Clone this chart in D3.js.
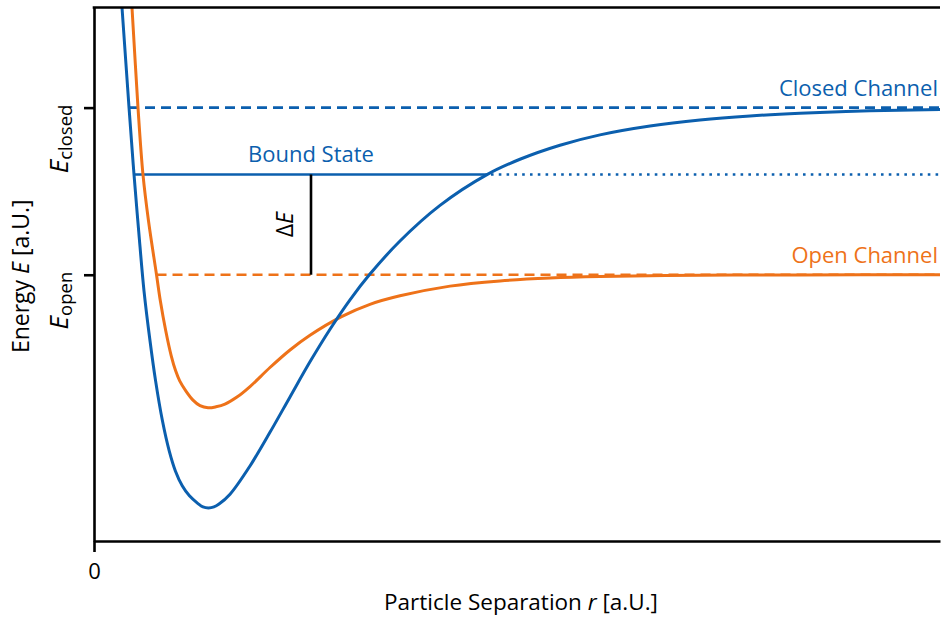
<!DOCTYPE html>
<html>
<head>
<meta charset="utf-8">
<script src="https://cdn.jsdelivr.net/npm/d3@7"></script>
<style>
  html, body { margin: 0; padding: 0; background: #fff; }
  svg { display: block; font-family: "Open Sans", "Noto Sans", sans-serif; }
</style>
</head>
<body>
<svg id="chart" width="941" height="621"></svg>
<script>
// Closed-channel potential (r, E) samples
const closedR = [0.307, 0.331, 0.414, 0.473, 0.530, 0.591, 0.662, 0.728, 0.809, 0.889, 0.962, 1.043, 1.128, 1.229, 1.288, 1.353, 1.418, 1.478, 1.608, 1.844, 2.080, 2.317, 2.553, 2.790, 3.026, 3.262, 3.617, 4.090, 4.645, 5.035, 5.508, 5.981, 6.572, 7.163, 7.754, 8.345, 9.173, 10.0];
const closedE = [1.760, 1.599, 1.000, 0.599, 0.251, -0.096, -0.395, -0.635, -0.874, -1.054, -1.174, -1.263, -1.323, -1.369, -1.389, -1.395, -1.389, -1.372, -1.313, -1.144, -0.943, -0.731, -0.521, -0.326, -0.150, 0.004, 0.202, 0.415, 0.599, 0.691, 0.775, 0.837, 0.890, 0.926, 0.950, 0.966, 0.981, 0.989];

// Open-channel potential (r, E) samples
const openR = [0.426, 0.449, 0.520, 0.579, 0.644, 0.739, 0.784, 0.848, 0.913, 0.965, 1.013, 1.087, 1.170, 1.253, 1.348, 1.442, 1.548, 1.690, 1.844, 2.080, 2.317, 2.553, 2.920, 3.262, 3.617, 4.208, 4.799, 5.390, 5.981, 7.163, 8.345, 10.0];
const openE = [1.760, 1.599, 1.000, 0.599, 0.323, 0.000, -0.156, -0.335, -0.485, -0.575, -0.635, -0.696, -0.750, -0.783, -0.796, -0.790, -0.774, -0.732, -0.669, -0.555, -0.450, -0.362, -0.252, -0.177, -0.126, -0.068, -0.037, -0.020, -0.011, -0.003, -0.001, 0.000];

// Threshold energies and the bound state level
const levelNames = ["closed", "open"];
const levelE = [1.0, 0.0];
const boundE = 0.6;
// Radial extents of the horizontal guides
const closedLineStart = 0.414;
const openLineStart = 0.739;
const boundStart = 0.473;
const boundEnd = 4.645;
const deltaR = 2.565;

const rDomain = [0, 10];
const eDomain = [-1.593, 1.599];
const xTicks = [0];

const blue = "#0b5fae";
const orange = "#ee7219";

const svg = d3.select("#chart");
const m = { left: 94, right: 940, top: 7.5, bottom: 541 };

const x = d3.scaleLinear().domain(rDomain).range([m.left, m.right]);
const y = d3.scaleLinear().domain(eDomain).range([m.bottom, m.top]);

svg.append("defs").append("clipPath").attr("id", "plot")
  .append("rect").attr("x", m.left).attr("y", m.top)
  .attr("width", m.right - m.left).attr("height", m.bottom - m.top);

const g = svg.append("g").attr("clip-path", "url(#plot)");

// horizontal guides
g.append("line")
  .attr("x1", x(closedLineStart)).attr("x2", x(rDomain[1]))
  .attr("y1", y(levelE[0])).attr("y2", y(levelE[0]))
  .attr("stroke", blue).attr("stroke-width", 2.6).attr("stroke-dasharray", "10,6");
g.append("line")
  .attr("x1", x(openLineStart)).attr("x2", x(rDomain[1]))
  .attr("y1", y(levelE[1])).attr("y2", y(levelE[1]))
  .attr("stroke", orange).attr("stroke-width", 2.6).attr("stroke-dasharray", "10,6");
g.append("line")
  .attr("x1", x(boundStart)).attr("x2", x(boundEnd))
  .attr("y1", y(boundE)).attr("y2", y(boundE))
  .attr("stroke", blue).attr("stroke-width", 2.6);
g.append("line")
  .attr("x1", x(boundEnd) + 4).attr("x2", x(rDomain[1]))
  .attr("y1", y(boundE)).attr("y2", y(boundE))
  .attr("stroke", blue).attr("stroke-width", 2.6).attr("stroke-dasharray", "2.6,5.2");

// energy gap marker
g.append("line")
  .attr("x1", x(deltaR)).attr("x2", x(deltaR))
  .attr("y1", y(levelE[1])).attr("y2", y(boundE))
  .attr("stroke", "#000").attr("stroke-width", 2.6);

// potential curves
const line = d3.line().x(d => x(d[0])).y(d => y(d[1])).curve(d3.curveCatmullRom.alpha(0.5));
g.append("path").datum(d3.zip(openR, openE))
  .attr("d", line).attr("fill", "none").attr("stroke", orange).attr("stroke-width", 3);
g.append("path").datum(d3.zip(closedR, closedE))
  .attr("d", line).attr("fill", "none").attr("stroke", blue).attr("stroke-width", 3);

// axes
const axisY = svg.append("g").attr("transform", `translate(${m.left},0)`)
  .call(d3.axisLeft(y).tickValues(levelE).tickSize(10).tickSizeOuter(0).tickFormat(""));
const axisX = svg.append("g").attr("transform", `translate(0,${m.bottom})`)
  .call(d3.axisBottom(x).tickValues(xTicks).tickSize(11).tickSizeOuter(0).tickPadding(11));
[axisX, axisY].forEach(a => {
  a.select(".domain").attr("stroke", "#000").attr("stroke-width", 2.6);
  a.selectAll(".tick line").attr("stroke", "#000").attr("stroke-width", 2.6);
});
axisX.selectAll(".tick text").attr("font-size", 22).attr("fill", "#000")
  .attr("font-family", "Open Sans, sans-serif");

// top frame line
svg.append("line").attr("x1", m.left - 1.3).attr("x2", m.right)
  .attr("y1", m.top).attr("y2", m.top)
  .attr("stroke", "#000").attr("stroke-width", 2.6);

// threshold labels on the energy axis
levelNames.forEach((name, i) => {
  const t = svg.append("text")
    .attr("transform", `translate(68,${y(levelE[i]) - 3}) rotate(-90)`)
    .attr("text-anchor", "end").attr("fill", "#000");
  t.append("tspan").attr("font-style", "italic").attr("font-size", 26).text("E");
  t.append("tspan").attr("font-size", 18.5).attr("dy", 4).text(name);
});

// axis titles
const yt = svg.append("text")
  .attr("transform", `translate(29,${(m.top + m.bottom) / 2 + 2}) rotate(-90)`)
  .attr("text-anchor", "middle").attr("font-size", 23).attr("fill", "#000");
yt.append("tspan").text("Energy ");
yt.append("tspan").attr("font-style", "italic").text("E");
yt.append("tspan").text(" [a.U.]");

const xt = svg.append("text")
  .attr("x", (m.left + m.right) / 2 + 4).attr("y", 610)
  .attr("text-anchor", "middle").attr("font-size", 22.5).attr("fill", "#000");
xt.append("tspan").text("Particle Separation ");
xt.append("tspan").attr("font-style", "italic").text("r");
xt.append("tspan").text(" [a.U.]");

// curve annotations
svg.append("text").attr("x", 938).attr("y", y(levelE[0]) - 12)
  .attr("text-anchor", "end").attr("font-size", 22).attr("fill", blue).text("Closed Channel");
svg.append("text").attr("x", 938).attr("y", y(levelE[1]) - 12)
  .attr("text-anchor", "end").attr("font-size", 22).attr("fill", orange).text("Open Channel");
svg.append("text").attr("x", x(deltaR)).attr("y", y(boundE) - 12)
  .attr("text-anchor", "middle").attr("font-size", 22).attr("fill", blue).text("Bound State");

const dl = svg.append("text")
  .attr("transform", `translate(293,${y((levelE[1] + boundE) / 2)}) rotate(-90)`)
  .attr("text-anchor", "middle").attr("font-size", 23).attr("fill", "#000");
dl.append("tspan").text("Δ");
dl.append("tspan").attr("font-style", "italic").text("E");
</script>
</body>
</html>
